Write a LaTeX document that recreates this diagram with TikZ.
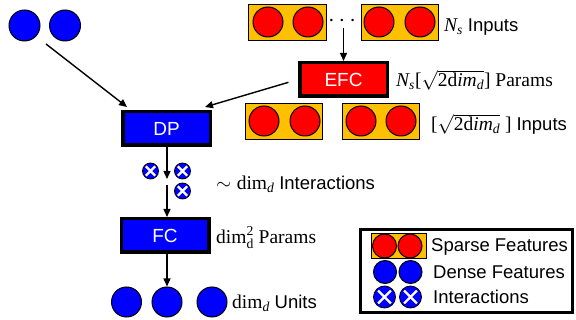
\RequirePackage{fix-cm}
\documentclass[tikz,border=0pt]{standalone}
\usepackage{amsmath}
\usepackage{fontspec}
\setmainfont{Liberation Serif}
\setsansfont{Liberation Sans}
\usetikzlibrary{arrows.meta,calc}
\definecolor{pblue}{HTML}{0000FF}
\definecolor{pred}{HTML}{FF0000}
\definecolor{porange}{HTML}{FFC000}
\newcommand\mvar[1]{\textit{#1}}
\newcommand\mup[1]{\textup{#1}}
\begin{document}
\begin{tikzpicture}[x=1pt,y=-1pt,font=\fontsize{18.5}{22}\selectfont]
\tikzset{
 arr/.style={-{Triangle[length=8pt,width=7pt]}, line width=1.4pt},
 dense/.style={circle, draw=black, line width=1pt, fill=pblue, minimum size=#1, inner sep=0pt},
 dense/.default=30,
 spc/.style={circle, draw=black, line width=1pt, fill=pred, minimum size=#1, inner sep=0pt},
 spc/.default=30,
 sbox/.style={draw=black, line width=1pt, fill=porange},
 block/.style={draw=black, line width=3.5pt, minimum width=87.5, minimum height=33.5, inner sep=0pt, font=\fontsize{19}{22}\selectfont\sffamily, text=white},
 inter/.style={circle, draw=black, line width=0.8pt, fill=pblue, minimum size=#1, inner sep=0pt,
   path picture={\draw[white,line width=2.2pt]
     ([shift={(-0.29*#1,-0.29*#1)}]path picture bounding box.center) -- ([shift={(0.29*#1,0.29*#1)}]path picture bounding box.center)
     ([shift={(-0.29*#1,0.29*#1)}]path picture bounding box.center) -- ([shift={(0.29*#1,-0.29*#1)}]path picture bounding box.center);}},
 inter/.default=16,
 lbl/.style={anchor=base west, inner sep=0pt, font=\fontsize{19.5}{22}\selectfont},
 sfl/.style={font=\fontsize{18.5}{22}\selectfont\sffamily},
}
\useasboundingbox (0,0) rectangle (576,320);

% top-left dense features
\node[dense=31] (d1) at (24.5,25.5) {};
\node[dense=31] (d2) at (65,25.5) {};
\coordinate (dmid) at (46,44);

% top sparse inputs
\node[sbox, minimum width=78, minimum height=36, inner sep=0pt] (sb1) at (287.5,22.5) {};
\node[spc] (s11) at (268,22) {};
\node[spc] (s12) at (308,22) {};
\node[inner sep=0pt, font=\fontsize{24}{26}\selectfont] (dots) at (344,21) {$\cdots$};
\node[sbox, minimum width=77, minimum height=36, inner sep=0pt] (sb2) at (400,22.5) {};
\node[spc] (s21) at (379,22) {};
\node[spc] (s22) at (420,22) {};
\node[lbl] (tin) at (444,31.5) {$\mvar{N}_{\mvar{s}}$ {\sffamily\fontsize{18.5}{22}\selectfont Inputs}};
\coordinate (dotsbot) at (343.5,28);

% EFC
\node[block, fill=pred] (efc) at (343.5,79.5) {EFC};
\node[lbl] (tefc) at (396,87) {$\mvar{N}_{\mvar{s}}\mup{[}\sqrt{\mup{2d}\mvar{im}_{\mvar{d}}}\mup{]}$ Params};

% second sparse row
\node[sbox, minimum width=77, minimum height=36, inner sep=0pt] (sb3) at (284,121.5) {};
\node[spc] (s31) at (264,121) {};
\node[spc] (s32) at (305,121) {};
\node[sbox, minimum width=77, minimum height=36, inner sep=0pt] (sb4) at (381,121.5) {};
\node[spc] (s41) at (361,121) {};
\node[spc] (s42) at (401,121) {};
\node[lbl] (tin2) at (431,130.5) {$\mup{[}\sqrt{\mup{2d}\mvar{im}_{\mvar{d}}}\ \mup{]}$ {\sffamily\fontsize{18.5}{22}\selectfont Inputs}};

% DP
\node[block, fill=pblue] (dp) at (166.5,128.5) {DP};
\draw[arr] (dmid) -- ($(dp.north west)+(6,-3)$);
\draw[arr, shorten <=10pt] (efc.west) -- ($(dp.north east)+(-7,-3)$);
\draw[arr] (dotsbot) -- (efc.north);

% interactions
\node[inter] (i1) at (150.5,171) {};
\node[inter] (i2) at (182.5,171) {};
\node[inter] (i3) at (182.5,191) {};
\coordinate (a1end) at (167,179);
\coordinate (a2start) at (167,185);
\draw[arr] (dp.south -| a1end) -- (a1end);
\node[lbl] (tint) at (216,190) {$\sim\mup{dim}_{\mvar{d}}$ {\sffamily\fontsize{18.5}{22}\selectfont Interactions}};

% FC
\node[block, fill=pblue] (fc) at (165,235.5) {FC};
\draw[arr] (a2start) -- (a2start |- fc.north);
\node[lbl] (tfc) at (216,244) {$\mup{dim}_{\mup{d}}^{\mup{2}}$ Params};

% output units
\node[dense=30] (u1) at (126.5,302) {};
\node[dense=30] (u2) at (167,302) {};
\node[dense=30] (u3) at (212,302) {};
\draw[arr] (fc.south -| u2) -- (u2.north);
\node[lbl] (tu) at (232,308.5) {$\mup{dim}_{\mvar{d}}$ {\sffamily\fontsize{18.5}{22}\selectfont Units}};

% legend
\node[draw=black, line width=3pt, minimum width=212, minimum height=83, inner sep=0pt] (legend) at (466.5,271) {};
\node[sbox, minimum width=55, minimum height=25, inner sep=0pt] (lsb) at (398.5,246) {};
\node[spc=24] (ls1) at (384.5,246) {};
\node[spc=24] (ls2) at (410,246) {};
\node[lbl, sfl] (lt1) at (431,252) {Sparse Features};
\node[dense=23] (ld1) at (385,272) {};
\node[dense=23] (ld2) at (410.5,272) {};
\node[lbl, sfl] (lt2) at (433,278.5) {Dense Features};
\node[inter=22] (li1) at (384.5,297) {};
\node[inter=22] (li2) at (410.5,297) {};
\node[lbl, sfl] (lt3) at (433,303.5) {Interactions};
\end{tikzpicture}
\end{document}
